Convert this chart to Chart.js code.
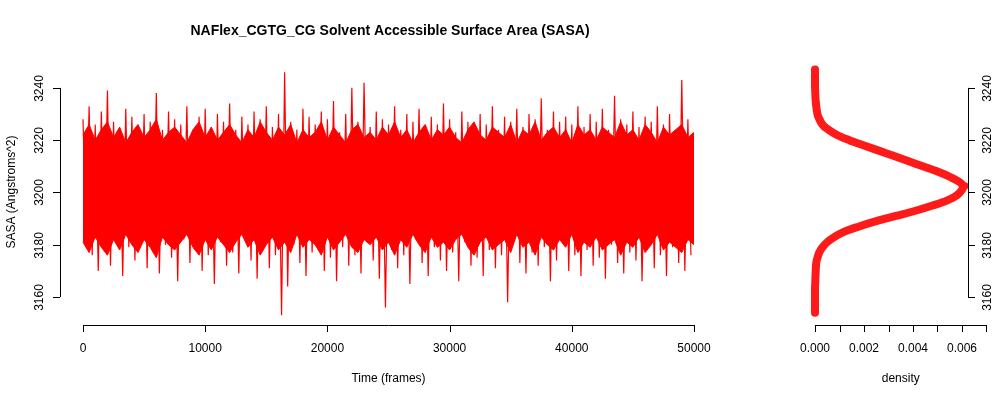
<!DOCTYPE html>
<html><head><meta charset="utf-8">
<script src="https://cdn.jsdelivr.net/npm/chart.js@4"></script>
<style>body{margin:0;background:#fff}canvas{position:absolute;left:0;top:0}</style>
</head><body>
<canvas id="c1" width="1000" height="400"></canvas>
<canvas id="c2" width="1000" height="400"></canvas>
<script>
const title = "NAFlex_CGTG_CG Solvent Accessible Surface Area (SASA)";
const frameStep = 250;
const coreStep = 500;
const sasa = [
3228,3184,3233,3176,3226,3170,3231,3178,3239,3172, 3227,3181,3224,3168,3232,3179,3229,3174,3225,3183,
3230,3171,3227,3177,3238,3169,3224,3180,3231,3175, 3228,3166,3226,3182,3233,3173,3223,3178,3229,3170,
3232,3176,3225,3165,3230,3181,3227,3172,3234,3177, 3224,3169,3229,3183,3226,3174,3231,3167,3228,3179,
3233,3171,3225,3176,3230,3153,3246,3164,3227,3180, 3224,3173,3232,3168,3229,3177,3226,3182,3231,3170,
3228,3175,3235,3166,3223,3179,3230,3172,3240,3176, 3227,3169,3242,3181,3225,3174,3231,3167,3228,3156,
3226,3178,3233,3171,3224,3176,3230,3165,3227,3182, 3232,3173,3225,3168,3229,3179,3226,3174,3234,3170,
3228,3177,3223,3166,3231,3181,3227,3172,3225,3175, 3230,3168,3226,3178,3233,3171,3224,3176,3229,3158,
3227,3183,3232,3173,3225,3169,3230,3177,3228,3172, 3236,3179,3224,3166,3231,3174,3227,3181,3229,3170,
3226,3176,3233,3168,3225,3178,3230,3172,3227,3175, 3232,3167,3224,3180,3237,3173,3228,3169,3226,3177,
3231,3174,3225,3166,3229,3181,3227,3171,3233,3176, 3226,3168,3230,3179,3224,3173,3243,3170,3228,3176
];
const coreHi = [3222,3226,3220,3224,3227,3221,3225,3219,3223,3226, 3221,3224,3228,3220,3223,3225,3222,3219,3224,3227,
3221,3225,3220,3223,3226,3222,3219,3224,3221,3227, 3223,3220,3225,3222,3226,3219,3224,3221,3223,3227,
3220,3225,3222,3219,3224,3226,3221,3223,3220,3225, 3222,3227,3221,3224,3219,3223,3226,3220,3224,3222,
3225,3221,3219,3224,3227,3222,3220,3225,3223,3221, 3226,3219,3224,3222,3227,3220,3223,3225,3221,3224,
3219,3226,3222,3224,3220,3225,3223,3221,3227,3222, 3224,3220,3226,3223,3219,3225,3222,3224,3226,3221,3223];
const coreLo = [3181,3177,3183,3179,3176,3182,3178,3184,3180,3177, 3182,3179,3175,3183,3180,3178,3181,3184,3179,3176,
3182,3178,3183,3180,3177,3181,3184,3179,3182,3176, 3180,3183,3178,3181,3177,3184,3179,3182,3180,3176,
3183,3178,3181,3184,3179,3177,3182,3180,3183,3178, 3181,3176,3182,3179,3184,3180,3177,3183,3179,3181,
3178,3182,3184,3179,3176,3181,3183,3178,3180,3182, 3177,3184,3179,3181,3176,3183,3180,3178,3182,3179,
3184,3177,3181,3179,3183,3178,3180,3182,3176,3181, 3179,3183,3177,3180,3184,3178,3181,3179,3177,3182,3180];
const densSasa = [3247,3244,3240,3236,3233,3230,3228,3226,3224,3222,3220,3218,3216,3214,3212,3210,3208,3206,3204,3202.5,3201,3199,3197,3195,3193,3191,3189,3187,3185,3183,3181,3179,3177,3175,3172,3168,3164,3160,3156,3154];
const densVal  = [0,0,0,0.00002,0.00005,0.0001,0.00018,0.0003,0.00055,0.0009,0.0014,0.002,0.0026,0.0032,0.0038,0.0044,0.005,0.0055,0.0059,0.0061,0.006,0.0058,0.0054,0.0048,0.0041,0.0033,0.0025,0.0018,0.0012,0.0008,0.0005,0.0003,0.00017,0.0001,0.00004,0.00002,0,0,0,0];
const yTicks = [3160,3180,3200,3220,3240];
const xTicks = [0,10000,20000,30000,40000,50000];
const dTicks = [0,0.001,0.002,0.003,0.004,0.005,0.006,0.007];
const dLabels = [0,0.002,0.004,0.006];

const FONT = '12px "Liberation Sans", Arial, sans-serif';
const YMIN = 3149.3, YMAX = 3249.9;

function axes(ctx, ch, opt){
  const xs = ch.scales.x, ys = ch.scales.y;
  ctx.save(); ctx.strokeStyle='#000'; ctx.fillStyle='#000'; ctx.lineWidth=1; ctx.font=FONT;
  const ax = opt.yAxisX, dir = opt.yDir;
  const y0 = ys.getPixelForValue(yTicks[0]), y1 = ys.getPixelForValue(yTicks[yTicks.length-1]);
  ctx.beginPath(); ctx.moveTo(ax+.5,y0); ctx.lineTo(ax+.5,y1); ctx.stroke();
  yTicks.forEach(v=>{const p=Math.round(ys.getPixelForValue(v))+.5;
    ctx.beginPath(); ctx.moveTo(ax,p); ctx.lineTo(ax+dir*7,p); ctx.stroke();
    ctx.save(); ctx.translate(ax+dir*20,p); ctx.rotate(-Math.PI/2); ctx.textAlign='center'; ctx.textBaseline='middle';
    ctx.fillText(String(v),0,0); ctx.restore();});
  const xy = 325;
  const t = opt.xTicks;
  const xa = xs.getPixelForValue(t[0]), xb = xs.getPixelForValue(t[t.length-1]);
  ctx.beginPath(); ctx.moveTo(xa,xy+.5); ctx.lineTo(xb,xy+.5); ctx.stroke();
  t.forEach(v=>{const p=Math.round(xs.getPixelForValue(v))+.5;
    ctx.beginPath(); ctx.moveTo(p,xy); ctx.lineTo(p,xy+7); ctx.stroke();});
  ctx.textAlign='center'; ctx.textBaseline='middle';
  opt.xLabels.forEach(v=>ctx.fillText(opt.fmt(v), xs.getPixelForValue(v), 349));
  ctx.fillText(opt.xTitle, (xa+xb)/2, 379);
  ctx.restore();
}

const RED = '#ff0000';
new Chart(document.getElementById('c1'), {
  type:'line',
  data:{datasets:[
    {data: coreHi.map((v,i)=>({x:i*coreStep,y:v})), borderColor:RED, backgroundColor:RED, borderWidth:1, pointRadius:0, tension:0, fill:'+1'},
    {data: coreLo.map((v,i)=>({x:i*coreStep,y:v})), borderColor:RED, borderWidth:1, pointRadius:0, tension:0, fill:false},
    {data: sasa.map((v,i)=>({x:i*frameStep,y:v})), borderColor:RED, borderWidth:1.2, pointRadius:0, tension:0, fill:false}
  ]},
  options:{responsive:false, animation:false, events:[],
    layout:{padding:{left:60,right:1000-718,top:62,bottom:400-325}},
    plugins:{legend:{display:false},tooltip:{enabled:false}},
    scales:{x:{type:'linear',display:false,min:-1882,max:51964}, y:{display:false,min:YMIN,max:YMAX}}},
  plugins:[{id:'ax',afterDraw(ch){const ctx=ch.ctx;
    axes(ctx,ch,{yAxisX:60,yDir:-1,xTicks:xTicks,xLabels:xTicks,fmt:v=>String(v),xTitle:'Time (frames)'});
    ctx.save(); ctx.font='bold 14px "Liberation Sans", Arial, sans-serif'; ctx.textAlign='center'; ctx.textBaseline='middle';
    ctx.fillText(title,390,31);
    ctx.font=FONT; ctx.translate(12,192); ctx.rotate(-Math.PI/2); ctx.fillText('SASA (Angstroms^2)',0,0); ctx.restore();}}]
});

new Chart(document.getElementById('c2'), {
  type:'line',
  data:{datasets:[{data: densSasa.map((s,i)=>({x:densVal[i],y:s})), borderColor:'#ff1a1a', backgroundColor:'#ff1a1a', borderWidth:8, borderCapStyle:'round', borderJoinStyle:'round', pointRadius:0, cubicInterpolationMode:'monotone'}]},
  options:{responsive:false, animation:false, events:[],
    layout:{padding:{left:808,right:1000-968,top:62,bottom:400-325}},
    plugins:{legend:{display:false},tooltip:{enabled:false}},
    scales:{x:{type:'linear',display:false,min:-0.000286,max:0.006245}, y:{display:false,min:YMIN,max:YMAX}}},
  plugins:[{id:'ax2',afterDraw(ch){
    axes(ch.ctx,ch,{yAxisX:968,yDir:1,xTicks:dTicks,xLabels:dLabels,fmt:v=>v.toFixed(3),xTitle:'density'});}}]
});
</script></body></html>
